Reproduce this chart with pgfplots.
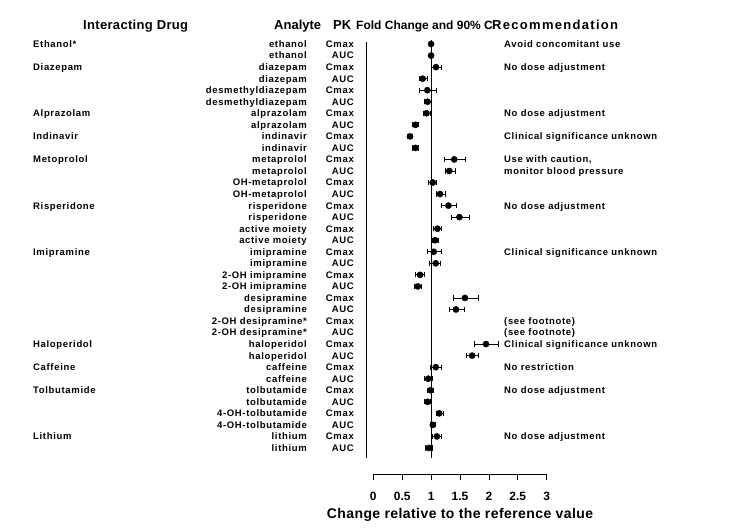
\documentclass[border=0pt]{standalone}
\usepackage{pgfplots}
\pgfplotsset{compat=1.18}
\usepackage{pgfplotstable}
\usepackage{fontspec}
\setmainfont{Liberation Sans}
\newfontfamily\labfont{Liberation Sans}[LetterSpace=7]
\newfontfamily\wideA{Liberation Sans}[LetterSpace=2.5]
\newfontfamily\wideB{Liberation Sans}[LetterSpace=10]
\newfontfamily\wideC{Liberation Sans}[LetterSpace=3]

% row = line in the plot (1 = top), x = point estimate, lo/hi = 90% CI
\pgfplotstableread{
row x lo hi
1 1.00 0.99 1.01
2 1.00 0.99 1.01
3 1.085 1.01 1.17
4 0.855 0.80 0.935
5 0.935 0.80 1.085
6 0.94 0.89 1.00
7 0.92 0.87 0.99
8 0.73 0.68 0.785
9 0.635 0.59 0.68
10 0.73 0.685 0.78
11 1.40 1.23 1.585
12 1.315 1.25 1.425
13 1.03 0.96 1.10
14 1.155 1.085 1.245
15 1.30 1.18 1.43
16 1.49 1.35 1.67
17 1.11 1.04 1.18
18 1.07 1.02 1.13
19 1.045 0.935 1.175
20 1.08 0.97 1.165
21 0.81 0.73 0.89
22 0.77 0.71 0.83
23 1.585 1.385 1.82
24 1.43 1.315 1.58
27 1.95 1.75 2.16
28 1.71 1.61 1.82
29 1.08 0.99 1.17
30 0.95 0.88 1.03
31 0.99 0.94 1.045
32 0.94 0.89 0.995
33 1.14 1.09 1.21
34 1.03 0.985 1.075
35 1.10 1.03 1.18
36 0.96 0.90 1.025
}\fc

\tikzset{
  body/.style={font=\labfont\bfseries\fontsize{9.5}{11}\selectfont, inner sep=0pt, yshift=-3.4pt},
  drug/.style={body, anchor=base west, xshift=-340.3pt},
  ana/.style={body, anchor=base east, xshift=-66.3pt},
  pk/.style={body, anchor=base east, xshift=-19.3pt},
  rec/.style={body, anchor=base west, xshift=130.7pt},
  hdr/.style={font=\bfseries\fontsize{13}{15}\selectfont, inner sep=0pt, anchor=base west},
}

\begin{document}
\begin{tikzpicture}
\useasboundingbox (0,0) rectangle (734pt,531pt);

% column headers
\node[hdr, font=\wideA\bfseries\fontsize{13}{15}\selectfont] at (83pt,501.7pt) {Interacting Drug};
\node[hdr] at (274pt,501.7pt) {Analyte};
\node[hdr] at (333pt,501.7pt) {PK};
\node[hdr, font=\bfseries\fontsize{12}{14}\selectfont] at (356pt,501.7pt) {Fold Change and 90\% C};
\node[hdr, font=\wideB\bfseries\fontsize{13}{15}\selectfont] at (492pt,501.7pt) {Recommendation};

\begin{axis}[
    at={(366.7pt,73pt)}, anchor=south west,
    scale only axis, width=180pt, height=418pt,
    xmin=-0.114, xmax=3,
    ymin=-36.87, ymax=-0.65,
    hide axis, clip=false,
]
\addplot[black, line width=0.8pt] coordinates {(-0.114,-0.83) (-0.114,-36.87)};
\addplot[black, line width=0.8pt] coordinates {(1,-0.65) (1,-36.87)};
\addplot[only marks, mark=*, mark size=3.1pt, black,
    error bars/.cd, x dir=both, x explicit,
    error mark=|,
    error bar style={line width=0.8pt},
    error mark options={mark size=2.6pt, line width=0.8pt}]
  table[x=x, y expr=-\thisrow{row},
        x error minus expr=\thisrow{x}-\thisrow{lo},
        x error plus expr=\thisrow{hi}-\thisrow{x}] {\fc};

% interacting drugs
\node[drug] at (axis cs:0,-1) {Ethanol*};
\node[drug] at (axis cs:0,-3) {Diazepam};
\node[drug] at (axis cs:0,-7) {Alprazolam};
\node[drug] at (axis cs:0,-9) {Indinavir};
\node[drug] at (axis cs:0,-11) {Metoprolol};
\node[drug] at (axis cs:0,-15) {Risperidone};
\node[drug] at (axis cs:0,-19) {Imipramine};
\node[drug] at (axis cs:0,-27) {Haloperidol};
\node[drug] at (axis cs:0,-29) {Caffeine};
\node[drug] at (axis cs:0,-31) {Tolbutamide};
\node[drug] at (axis cs:0,-35) {Lithium};

% analytes
\node[ana] at (axis cs:0,-1) {ethanol};
\node[ana] at (axis cs:0,-2) {ethanol};
\node[ana] at (axis cs:0,-3) {diazepam};
\node[ana] at (axis cs:0,-4) {diazepam};
\node[ana] at (axis cs:0,-5) {desmethyldiazepam};
\node[ana] at (axis cs:0,-6) {desmethyldiazepam};
\node[ana] at (axis cs:0,-7) {alprazolam};
\node[ana] at (axis cs:0,-8) {alprazolam};
\node[ana] at (axis cs:0,-9) {indinavir};
\node[ana] at (axis cs:0,-10) {indinavir};
\node[ana] at (axis cs:0,-11) {metaprolol};
\node[ana] at (axis cs:0,-12) {metaprolol};
\node[ana] at (axis cs:0,-13) {OH-metaprolol};
\node[ana] at (axis cs:0,-14) {OH-metaprolol};
\node[ana] at (axis cs:0,-15) {risperidone};
\node[ana] at (axis cs:0,-16) {risperidone};
\node[ana] at (axis cs:0,-17) {active moiety};
\node[ana] at (axis cs:0,-18) {active moiety};
\node[ana] at (axis cs:0,-19) {imipramine};
\node[ana] at (axis cs:0,-20) {imipramine};
\node[ana] at (axis cs:0,-21) {2-OH imipramine};
\node[ana] at (axis cs:0,-22) {2-OH imipramine};
\node[ana] at (axis cs:0,-23) {desipramine};
\node[ana] at (axis cs:0,-24) {desipramine};
\node[ana] at (axis cs:0,-25) {2-OH desipramine*};
\node[ana] at (axis cs:0,-26) {2-OH desipramine*};
\node[ana] at (axis cs:0,-27) {haloperidol};
\node[ana] at (axis cs:0,-28) {haloperidol};
\node[ana] at (axis cs:0,-29) {caffeine};
\node[ana] at (axis cs:0,-30) {caffeine};
\node[ana] at (axis cs:0,-31) {tolbutamide};
\node[ana] at (axis cs:0,-32) {tolbutamide};
\node[ana] at (axis cs:0,-33) {4-OH-tolbutamide};
\node[ana] at (axis cs:0,-34) {4-OH-tolbutamide};
\node[ana] at (axis cs:0,-35) {lithium};
\node[ana] at (axis cs:0,-36) {lithium};

% PK parameters
\node[pk] at (axis cs:0,-1) {Cmax};  \node[pk] at (axis cs:0,-2) {AUC};
\node[pk] at (axis cs:0,-3) {Cmax};  \node[pk] at (axis cs:0,-4) {AUC};
\node[pk] at (axis cs:0,-5) {Cmax};  \node[pk] at (axis cs:0,-6) {AUC};
\node[pk] at (axis cs:0,-7) {Cmax};  \node[pk] at (axis cs:0,-8) {AUC};
\node[pk] at (axis cs:0,-9) {Cmax};  \node[pk] at (axis cs:0,-10) {AUC};
\node[pk] at (axis cs:0,-11) {Cmax}; \node[pk] at (axis cs:0,-12) {AUC};
\node[pk] at (axis cs:0,-13) {Cmax}; \node[pk] at (axis cs:0,-14) {AUC};
\node[pk] at (axis cs:0,-15) {Cmax}; \node[pk] at (axis cs:0,-16) {AUC};
\node[pk] at (axis cs:0,-17) {Cmax}; \node[pk] at (axis cs:0,-18) {AUC};
\node[pk] at (axis cs:0,-19) {Cmax}; \node[pk] at (axis cs:0,-20) {AUC};
\node[pk] at (axis cs:0,-21) {Cmax}; \node[pk] at (axis cs:0,-22) {AUC};
\node[pk] at (axis cs:0,-23) {Cmax}; \node[pk] at (axis cs:0,-24) {AUC};
\node[pk] at (axis cs:0,-25) {Cmax}; \node[pk] at (axis cs:0,-26) {AUC};
\node[pk] at (axis cs:0,-27) {Cmax}; \node[pk] at (axis cs:0,-28) {AUC};
\node[pk] at (axis cs:0,-29) {Cmax}; \node[pk] at (axis cs:0,-30) {AUC};
\node[pk] at (axis cs:0,-31) {Cmax}; \node[pk] at (axis cs:0,-32) {AUC};
\node[pk] at (axis cs:0,-33) {Cmax}; \node[pk] at (axis cs:0,-34) {AUC};
\node[pk] at (axis cs:0,-35) {Cmax}; \node[pk] at (axis cs:0,-36) {AUC};

% recommendations
\node[rec] at (axis cs:0,-1) {Avoid concomitant use};
\node[rec] at (axis cs:0,-3) {No dose adjustment};
\node[rec] at (axis cs:0,-7) {No dose adjustment};
\node[rec] at (axis cs:0,-9) {Clinical significance unknown};
\node[rec] at (axis cs:0,-11) {Use with caution,};
\node[rec] at (axis cs:0,-12) {monitor blood pressure};
\node[rec] at (axis cs:0,-15) {No dose adjustment};
\node[rec] at (axis cs:0,-19) {Clinical significance unknown};
\node[rec] at (axis cs:0,-25) {(see footnote)};
\node[rec] at (axis cs:0,-26) {(see footnote)};
\node[rec] at (axis cs:0,-27) {Clinical significance unknown};
\node[rec] at (axis cs:0,-29) {No restriction};
\node[rec] at (axis cs:0,-31) {No dose adjustment};
\node[rec] at (axis cs:0,-35) {No dose adjustment};
\end{axis}

% separate scale axis below the plot
\begin{axis}[
    at={(373.3pt,57pt)}, anchor=south west,
    scale only axis, width=173.4pt, height=10pt,
    xmin=0, xmax=3, ymin=0, ymax=1,
    axis x line=bottom, axis y line=none,
    axis line style={-, line width=0.8pt},
    xtick={0,0.5,1,1.5,2,2.5,3},
    tick align=outside, major tick length=6pt,
    tick style={line width=0.8pt, black},
    /pgf/number format/assume math mode=true,
    xticklabel style={font=\bfseries\fontsize{12}{14}\selectfont, yshift=-9pt},
    xlabel={Change relative to the reference value},
    xlabel style={font=\wideC\bfseries\fontsize{14}{16}\selectfont,
        at={(axis description cs:0.5,0)}, anchor=center, yshift=-41pt},
]
\addplot[draw=none] coordinates {(0,0)};
\end{axis}
\end{tikzpicture}
\end{document}
